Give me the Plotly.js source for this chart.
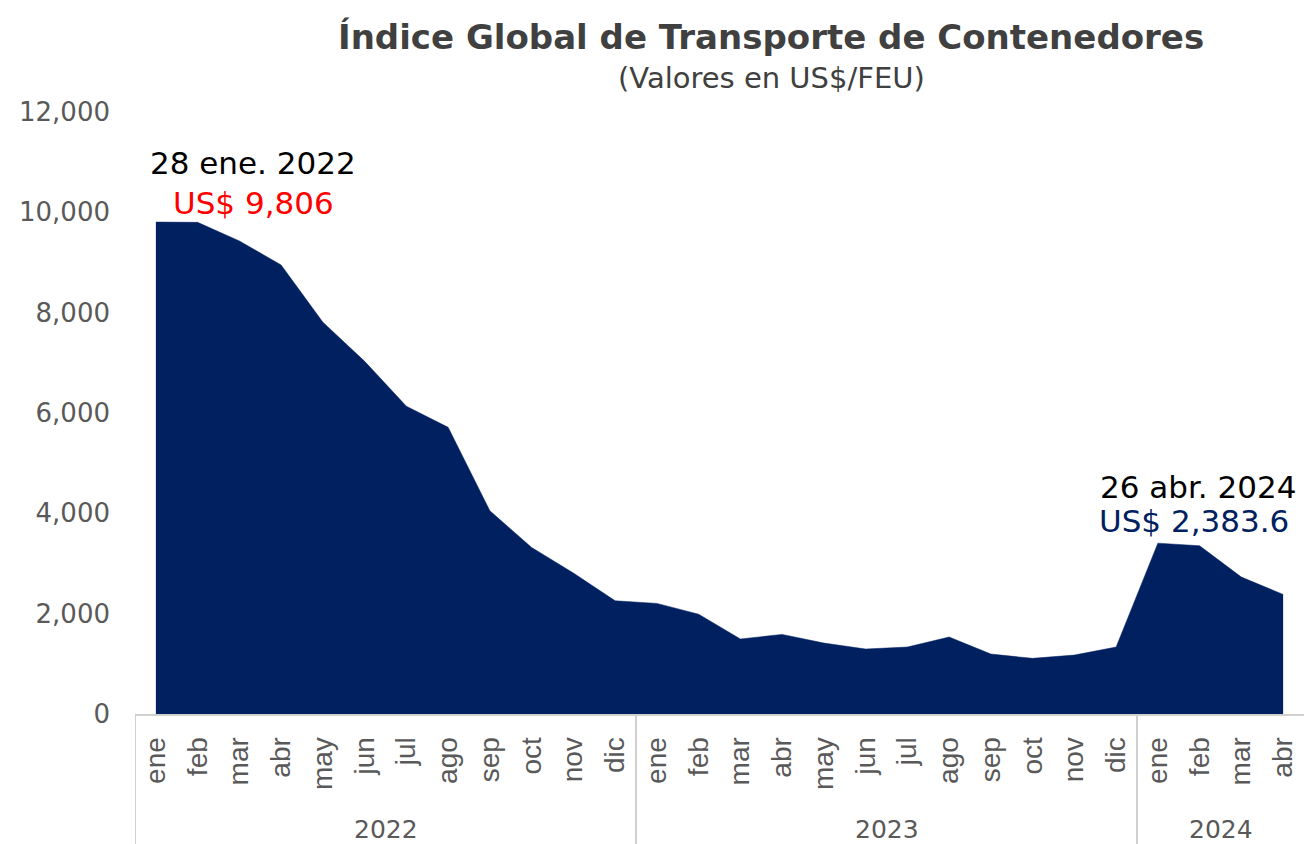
<!DOCTYPE html>
<html>
<head>
<meta charset="utf-8">
<script src="https://cdn.plot.ly/plotly-3.0.1.min.js"></script>
<style>html,body{margin:0;padding:0;background:#fff;}#chart{width:1304px;height:844px;}</style>
</head>
<body>
<div id="chart"></div>
<script>
// Data
const years = ["2022", "2023", "2024"];
const monthsPerYear = [12, 12, 4];
const months = ["ene","feb","mar","abr","may","jun","jul","ago","sep","oct","nov","dic",
                "ene","feb","mar","abr","may","jun","jul","ago","sep","oct","nov","dic",
                "ene","feb","mar","abr"];
const values = [9806, 9800, 9430, 8950, 7810, 7030, 6135, 5715, 4050, 3320, 2810, 2257,
                2205, 1990, 1495, 1587, 1414, 1295, 1335, 1534, 1195, 1109, 1175, 1335,
                3406, 3353, 2729, 2383.6];
const peakLabel = "28 ene. 2022";
const peakValue = "US$ 9,806";
const lastLabel = "26 abr. 2024";
const lastValue = "US$ 2,383.6";

// Build unique category keys
const yearOf = [];
years.forEach((y, i) => { for (let k = 0; k < monthsPerYear[i]; k++) yearOf.push(y); });
const cats = months.map((m, i) => m + " " + yearOf[i]);

const navy = "#002060";
const grey = "#595959";
const sepColor = "#d0d0d0";
const fam = "DejaVu Sans";

const trace = {
  x: cats, y: values, type: "scatter", mode: "lines",
  fill: "tozeroy", fillcolor: navy, line: {color: navy, width: 0.5},
  hoverinfo: "x+y"
};

// separators and year labels
const shapes = [];
const annotations = [];
let start = 0;
const sepBottom = -130 / 602;
shapes.push({type: "line", xref: "x", yref: "paper", x0: -0.5, x1: -0.5, y0: 0, y1: sepBottom,
             line: {color: sepColor, width: 2}});
years.forEach((y, i) => {
  const end = start + monthsPerYear[i] - 1;
  if (i < years.length - 1) {
    shapes.push({type: "line", xref: "x", yref: "paper", x0: end + 0.5, x1: end + 0.5, y0: 0, y1: sepBottom,
                 line: {color: sepColor, width: 2}});
  }
  annotations.push({xref: "x", yref: "paper", x: (start + end) / 2, y: -115 / 602,
                    text: y, showarrow: false, xanchor: "center", yanchor: "middle",
                    font: {family: fam, size: 25, color: grey}});
  start = end + 1;
});

annotations.push(
  {xref: "paper", yref: "paper", x: (771 - 135) / 1169, y: (714 - 37) / 602, text: "Índice Global de Transporte de Contenedores",
   showarrow: false, xanchor: "center", yanchor: "middle",
   font: {family: fam, size: 34, color: "#404040", weight: 700}},
  {xref: "paper", yref: "paper", x: (771 - 135) / 1169, y: (714 - 78) / 602, text: "(Valores en US$/FEU)",
   showarrow: false, xanchor: "center", yanchor: "middle",
   font: {family: fam, size: 29, color: "#404040"}},
  {xref: "paper", yref: "paper", x: (253 - 135) / 1169, y: (714 - 163) / 602, text: peakLabel,
   showarrow: false, xanchor: "center", yanchor: "middle",
   font: {family: fam, size: 31, color: "#000000"}},
  {xref: "paper", yref: "paper", x: (253 - 135) / 1169, y: (714 - 203) / 602, text: peakValue,
   showarrow: false, xanchor: "center", yanchor: "middle",
   font: {family: fam, size: 31, color: "#ff0000"}},
  {xref: "paper", yref: "paper", x: (1298 - 135) / 1169, y: (714 - 487) / 602, text: lastLabel,
   showarrow: false, xanchor: "right", yanchor: "middle",
   font: {family: fam, size: 31, color: "#000000"}},
  {xref: "paper", yref: "paper", x: (1291 - 135) / 1169, y: (714 - 521) / 602, text: lastValue,
   showarrow: false, xanchor: "right", yanchor: "middle",
   font: {family: fam, size: 31, color: navy}}
);

const layout = {
  width: 1304, height: 844,
  margin: {l: 135, r: 0, t: 112, b: 130},
  paper_bgcolor: "#fff", plot_bgcolor: "#fff",
  showlegend: false,
  xaxis: {
    type: "category", tickmode: "array", tickvals: cats, ticktext: months,
    tickangle: -90, range: [-0.5, cats.length - 0.5],
    showline: true, linecolor: sepColor, linewidth: 2,
    showgrid: false, zeroline: false, ticks: "",
    ticklabelstandoff: 10,
    tickfont: {family: "Liberation Sans", size: 28, color: grey}
  },
  yaxis: {
    range: [0, 12000], dtick: 2000, tickformat: ",",
    showline: false, showgrid: false, zeroline: false, ticks: "",
    ticklabelstandoff: 24,
    tickfont: {family: fam, size: 26, color: grey}
  },
  shapes: shapes,
  annotations: annotations
};

Plotly.newPlot("chart", [trace], layout, {displayModeBar: false, staticPlot: true});
</script>
</body>
</html>
